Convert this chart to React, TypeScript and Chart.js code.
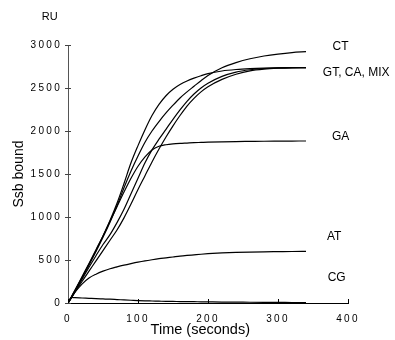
import React, { useEffect, useRef } from "react";
import { Chart, registerables } from "chart.js";

Chart.register(...registerables);

const time = [0, 5, 10, 20, 30, 40, 50, 60, 70, 80, 90, 100, 110, 120, 130, 140, 150, 160, 170, 180, 190, 200, 220, 240, 260, 280, 300, 320, 340];

const seriesGT = [0, 70, 145, 295, 450, 610, 780, 960, 1160, 1390, 1630, 1830, 2015, 2180, 2310, 2410, 2485, 2540, 2582, 2615, 2643, 2667, 2698, 2715, 2725, 2731, 2734, 2736, 2737];
const seriesCT = [0, 70, 143, 290, 443, 600, 765, 940, 1130, 1340, 1535, 1710, 1870, 2000, 2110, 2210, 2300, 2384, 2455, 2520, 2585, 2645, 2735, 2795, 2840, 2872, 2895, 2912, 2922];
const seriesCA = [0, 65, 135, 275, 415, 550, 680, 795, 935, 1090, 1270, 1450, 1630, 1780, 1905, 2020, 2135, 2245, 2345, 2430, 2500, 2555, 2635, 2685, 2712, 2727, 2733, 2736, 2737];
const seriesMIX = [0, 60, 125, 250, 370, 490, 610, 730, 849, 990, 1150, 1320, 1480, 1640, 1790, 1930, 2060, 2180, 2290, 2380, 2455, 2515, 2600, 2660, 2700, 2720, 2730, 2735, 2736];
const seriesGA = [0, 75, 150, 305, 460, 620, 780, 950, 1120, 1290, 1450, 1590, 1700, 1780, 1822, 1840, 1850, 1856, 1860, 1864, 1867, 1870, 1874, 1877, 1879, 1881, 1882, 1883, 1884];
const seriesAT = [0, 65, 125, 220, 290, 335, 370, 398, 420, 440, 458, 475, 490, 503, 515, 525, 535, 545, 553, 560, 567, 573, 582, 588, 592, 595, 597, 599, 600];
const seriesCG = [0, 65, 62, 58, 54, 50, 47, 44, 40, 36, 32, 28, 25, 23, 21, 19, 18, 17, 16, 15, 14, 13, 11, 10, 9, 8, 7, 6, 5];

const seriesNames = ["GT", "CT", "CA", "MIX", "GA", "AT", "CG"];
const seriesValues = [seriesGT, seriesCT, seriesCA, seriesMIX, seriesGA, seriesAT, seriesCG];

const xTicks = [0, 100, 200, 300, 400];
const yTicks = [0, 500, 1000, 1500, 2000, 2500, 3000];

const labelTexts = ["CT", "GT, CA, MIX", "GA", "AT", "CG"];
const labelX = [378, 364, 377, 370, 371];
const labelY = [2977, 2674, 1930, 767, 291];

const unitText = "RU";
const unitX = -26;
const unitY = 3326;

const xTitle = "Time (seconds)";
const xTitleAt = 189;

const FONT = '"Liberation Sans", Arial, Helvetica, sans-serif';

const tickPlugin = {
  id: "customTicks",
  afterDatasetsDraw(chart: any) {
    const ctx = chart.ctx;
    const xs = chart.scales.x;
    const ys = chart.scales.y;
    ctx.save();
    ctx.lineWidth = 1;
    ctx.strokeStyle = "#000";
    xTicks.forEach((t) => {
      const px = Math.round(xs.getPixelForValue(t)) + 0.5;
      ctx.beginPath();
      ctx.moveTo(px, ys.bottom);
      ctx.lineTo(px, ys.bottom - 4);
      ctx.stroke();
    });
    ctx.strokeStyle = "#444";
    yTicks.forEach((v) => {
      const py = Math.round(ys.getPixelForValue(v)) + 0.5;
      ctx.beginPath();
      ctx.moveTo(xs.left - 3, py);
      ctx.lineTo(xs.left + 3, py);
      ctx.stroke();
    });
    ctx.restore();
    ctx.letterSpacing = "2.3px";
  },
  afterDraw(chart: any) {
    const ctx = chart.ctx;
    ctx.letterSpacing = "0px";
    const xs = chart.scales.x;
    const ys = chart.scales.y;
    ctx.save();
    ctx.fillStyle = "#000";
    ctx.textBaseline = "middle";
    ctx.textAlign = "left";
    ctx.font = `12px ${FONT}`;
    labelTexts.forEach((txt, i) => {
      ctx.fillText(txt, xs.getPixelForValue(labelX[i]), ys.getPixelForValue(labelY[i]));
    });
    ctx.font = `11px ${FONT}`;
    ctx.textAlign = "center";
    ctx.fillText(unitText, xs.getPixelForValue(unitX), ys.getPixelForValue(unitY));
    ctx.font = `14.5px ${FONT}`;
    ctx.fillText(xTitle, xs.getPixelForValue(xTitleAt), xs.bottom - 10);
    ctx.restore();
  },
};

export default function App() {
  const ref = useRef<HTMLCanvasElement | null>(null);
  useEffect(() => {
    if (!ref.current) return;
    const chart = new Chart(ref.current, {
      type: "line",
      data: {
        datasets: seriesValues.map((vals, i) => ({
          label: seriesNames[i],
          data: time.map((t, j) => ({ x: t, y: vals[j] })),
          borderColor: "#000",
          borderWidth: 1.2,
          pointRadius: 0,
          fill: false,
          cubicInterpolationMode: "monotone" as const,
        })),
      },
      options: {
        animation: false,
        responsive: false,
        devicePixelRatio: 1,
        layout: { padding: { left: 0, top: 45, right: 47, bottom: 0 } },
        plugins: { legend: { display: false }, tooltip: { enabled: false } },
        scales: {
          x: {
            type: "linear",
            min: 0,
            max: 400,
            afterFit: (s: any) => {
              s.height = 37;
            },
            afterBuildTicks: (s: any) => {
              s.ticks = xTicks.map((v) => ({ value: v }));
            },
            grid: { display: true, drawOnChartArea: false, drawTicks: false },
            border: { display: true, color: "#000", width: 1 },
            ticks: {
              z: 1,
              padding: 10,
              color: "#000",
              font: { family: FONT, size: 10 },
              maxRotation: 0,
              callback: (v: any) => String(v),
            },
            title: { display: false },
          },
          y: {
            type: "linear",
            min: 0,
            max: 3000,
            afterFit: (s: any) => {
              s.width = 68;
            },
            afterBuildTicks: (s: any) => {
              s.ticks = yTicks.map((v) => ({ value: v }));
            },
            grid: { display: true, drawOnChartArea: false, drawTicks: false },
            border: { display: true, color: "#555", width: 1 },
            ticks: {
              z: 1,
              padding: 6,
              color: "#000",
              font: { family: FONT, size: 10 },
              callback: (v: any) => String(v),
            },
            title: { display: true, text: "Ssb bound", color: "#000", font: { family: FONT, size: 14 }, padding: { top: 11, bottom: 0 } },
          },
        },
      },
      plugins: [tickPlugin],
    });
    return () => chart.destroy();
  }, []);
  return (
    <div style={{ position: "fixed", left: 0, top: 0, width: 395, height: 340, background: "#fff" }}>
      <canvas ref={ref} width={395} height={340} style={{ display: "block", width: 395, height: 340 }} />
    </div>
  );
}
